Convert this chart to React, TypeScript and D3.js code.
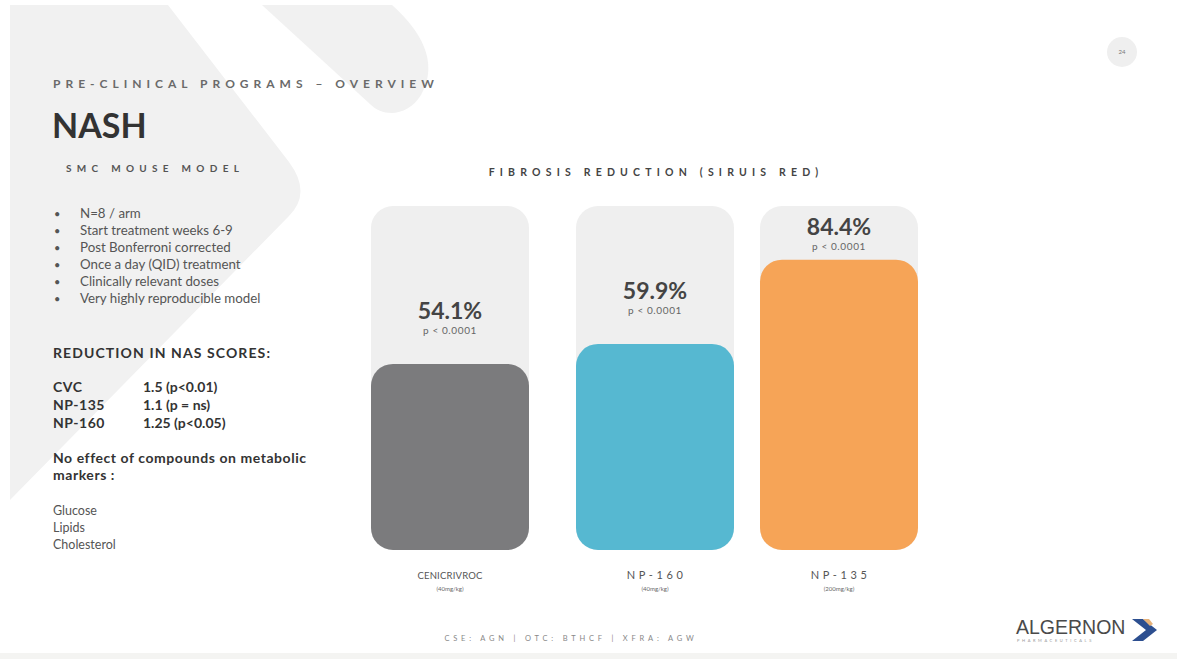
import React from "react";
import * as d3 from "d3";

const categories = ["CENICRIVROC", "NP-160", "NP-135"];
const categoryLabels = ["CENICRIVROC", "N P - 1 6 0", "N P - 1 3 5"];
const doses = ["(40mg/kg)", "(40mg/kg)", "(200mg/kg)"];
const reductions = [54.1, 59.9, 84.4];
const pValues = ["p < 0.0001", "p < 0.0001", "p < 0.0001"];
const barColors = ["#7b7b7d", "#56b8d1", "#f6a457"];

const bullets = [
  "N=8 / arm",
  "Start treatment weeks 6-9",
  "Post Bonferroni corrected",
  "Once a day (QID) treatment",
  "Clinically relevant doses",
  "Very highly reproducible model",
];
const nasCompounds = ["CVC", "NP-135", "NP-160"];
const nasScores = ["1.5 (p<0.01)", "1.1 (p = ns)", "1.25 (p<0.05)"];
const markers = ["Glucose", "Lipids", "Cholesterol"];

const FONT = "Lato, 'Open Sans', sans-serif";

export default function App() {
  const W = 1177;
  const H = 659;
  const barW = 158;
  const x = d3.scaleOrdinal<string, number>().domain(categories).range([371, 576, 760]);
  const y = d3.scaleLinear().domain([0, 100]).range([550, 206]);

  return (
    <svg
      width={W}
      height={H}
      viewBox={`0 0 ${W} ${H}`}
      style={{ position: "fixed", left: 0, top: 0, background: "#fff" }}
      fontFamily={FONT}
    >
      {/* decorative background shapes */}
      <path d="M10,5 L168,5 L289,162 Q312,193 289,216 L10,500 Z" fill="#f1f1f1" />
      <path d="M262,5 L392,5 C420,30 440,62 421,95 C408,116 384,118 370,104 Z" fill="#f1f1f1" />
      <rect x={0} y={653} width={W} height={6} fill="#f4f4f2" />

      {/* page number */}
      <circle cx={1122} cy={52} r={15} fill="#efefef" />
      <text x={1122} y={54} fontSize={6} fill="#777" textAnchor="middle">24</text>

      {/* headings */}
      <text x={53} y={88} fontSize={12} fontWeight={700} fill="#6a6a6a" style={{ letterSpacing: "5px" }}>
        PRE-CLINICAL PROGRAMS – OVERVIEW
      </text>
      <text x={52} y={138} fontSize={34} fontWeight={700} fill="#333">NASH</text>
      <text x={66} y={172} fontSize={10} fontWeight={700} fill="#555" style={{ letterSpacing: "5.3px" }}>
        SMC MOUSE MODEL
      </text>

      {bullets.map((b, i) => (
        <g key={b}>
          <text x={54} y={218 + i * 17} fontSize={11} fill="#555">•</text>
          <text x={80} y={218 + i * 17} fontSize={13.3} fill="#555">{b}</text>
        </g>
      ))}

      <text x={53} y={358} fontSize={14} fontWeight={700} fill="#333" style={{ letterSpacing: "1.1px" }}>
        REDUCTION IN NAS SCORES:
      </text>
      {nasCompounds.map((c, i) => (
        <g key={c}>
          <text x={53} y={392 + i * 18} fontSize={14} fontWeight={700} fill="#333" style={{ letterSpacing: "0.5px" }}>{c}</text>
          <text x={143} y={392 + i * 18} fontSize={14} fontWeight={700} fill="#333">{nasScores[i]}</text>
        </g>
      ))}
      <text x={53} y={463} fontSize={14} fontWeight={700} fill="#333" style={{ letterSpacing: "0.55px" }}>
        No effect of compounds on metabolic
      </text>
      <text x={53} y={480} fontSize={14} fontWeight={700} fill="#333" style={{ letterSpacing: "0.55px" }}>markers :</text>
      {markers.map((m, i) => (
        <text key={m} x={53} y={515 + i * 17} fontSize={12.5} fill="#555">{m}</text>
      ))}

      {/* chart title */}
      <text x={656} y={176} fontSize={10.5} fontWeight={700} fill="#444" textAnchor="middle" style={{ letterSpacing: "5.2px" }}>
        FIBROSIS REDUCTION (SIRUIS RED)
      </text>

      {/* bars */}
      {categories.map((c, i) => {
        const x0 = x(c) as number;
        const top = y(reductions[i]);
        const labelY = Math.max(top - 45, y(100) + 29);
        return (
          <g key={c}>
            <rect x={x0} y={y(100)} width={barW} height={y(0) - y(100)} rx={22} ry={22} fill="#efefef" />
            <rect x={x0} y={top} width={barW} height={y(0) - top} rx={22} ry={22} fill={barColors[i]} />
            <text x={x0 + barW / 2} y={labelY} fontSize={23} fontWeight={700} fill="#444" textAnchor="middle">
              {reductions[i].toFixed(1)}%
            </text>
            <text x={x0 + barW / 2} y={labelY + 15} fontSize={10} fill="#666" textAnchor="middle" style={{ letterSpacing: "0.6px" }}>
              {pValues[i]}
            </text>
            <text x={x0 + barW / 2} y={579} fontSize={i === 0 ? 9.5 : 11} fill="#555" textAnchor="middle" style={{ letterSpacing: i === 0 ? "0.2px" : "0.4px" }}>
              {categoryLabels[i]}
            </text>
            <text x={x0 + barW / 2} y={591} fontSize={6} fill="#666" textAnchor="middle">
              {doses[i]}
            </text>
          </g>
        );
      })}

      {/* footer */}
      <text x={571} y={641} fontSize={7.5} fill="#888" textAnchor="middle" style={{ letterSpacing: "3.8px" }}>
        CSE: AGN | OTC: BTHCF | XFRA: AGW
      </text>

      {/* logo */}
      <text x={1016} y={634} fontSize={19.5} fontFamily="'Liberation Sans', Arial, sans-serif" fill="#4a4a4a">
        ALGERNON
      </text>
      <text x={1017} y={642} fontSize={4} fill="#999" style={{ letterSpacing: "2.6px" }}>
        PHARMACEUTICALS
      </text>
      <path d="M1132,619 L1143,619 L1157,630 L1143,641 L1132,641 L1146,630 Z" fill="#2d4f90" />
      <path d="M1143,619 L1149,619 L1153,624 L1150,626 Z" fill="#e6b27a" />
    </svg>
  );
}
